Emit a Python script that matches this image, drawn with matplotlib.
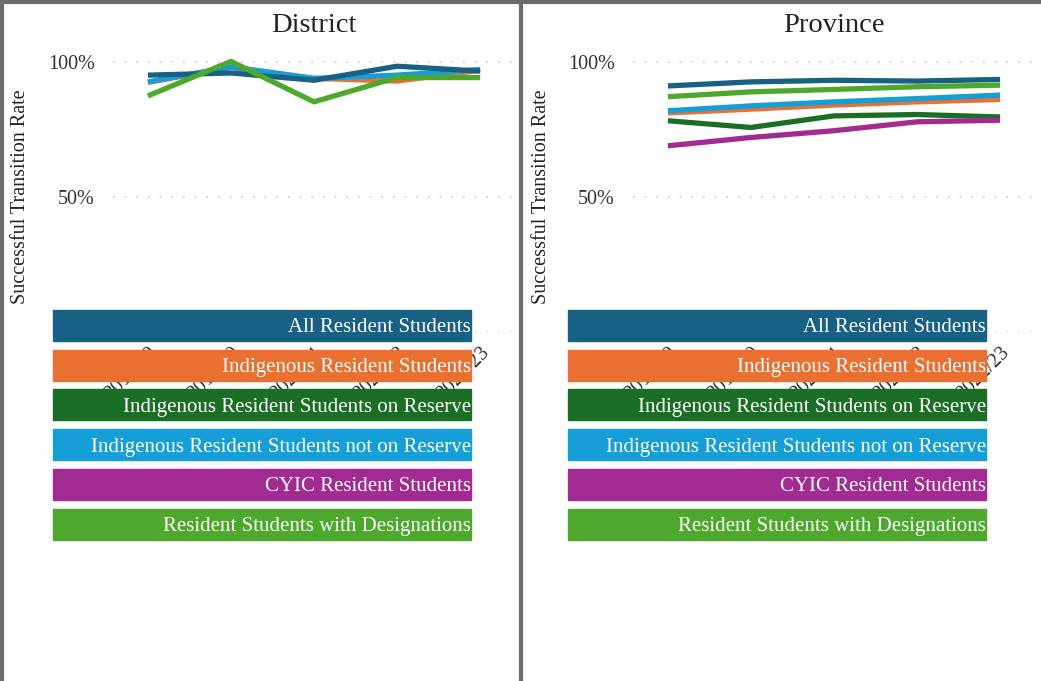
import matplotlib.pyplot as plt
from matplotlib.patches import Rectangle
from matplotlib.lines import Line2D
import numpy as np

plt.rcParams["font.family"] = ["Liberation Serif", "DejaVu Serif"]

years = ["2018/19", "2019/20", "2020/21", "2021/22", "2022/23"]
series = [
    "All Resident Students",
    "Indigenous Resident Students",
    "Indigenous Resident Students on Reserve",
    "Indigenous Resident Students not on Reserve",
    "CYIC Resident Students",
    "Resident Students with Designations",
]
colors = ["#186184", "#ea7032", "#1a6e26", "#169fd6", "#a12b91", "#4fa82e"]

# District values (None = not shown)
district = {
    "All Resident Students": [0.952, 0.960, 0.933, 0.985, 0.967],
    "Indigenous Resident Students": [0.925, 0.980, 0.940, 0.930, 0.970],
    "Indigenous Resident Students on Reserve": None,
    "Indigenous Resident Students not on Reserve": [0.927, 0.983, 0.940, 0.952, 0.973],
    "CYIC Resident Students": None,
    "Resident Students with Designations": [0.875, 1.003, 0.853, 0.943, 0.943],
}
province = {
    "All Resident Students": [0.912, 0.927, 0.933, 0.930, 0.936],
    "Indigenous Resident Students": [0.812, 0.826, 0.841, 0.853, 0.862],
    "Indigenous Resident Students on Reserve": [0.783, 0.758, 0.801, 0.806, 0.797],
    "Indigenous Resident Students not on Reserve": [0.820, 0.838, 0.853, 0.865, 0.878],
    "CYIC Resident Students": [0.690, 0.721, 0.746, 0.779, 0.785],
    "Resident Students with Designations": [0.872, 0.890, 0.899, 0.909, 0.915],
}

W, H = 1041, 681
fig = plt.figure(figsize=(W / 100, H / 100), dpi=100)

panels = [("District", district, 113, 53, 21), ("Province", province, 633, 568, 542)]
draw_order = [1, 2, 4, 3, 0, 5]

for title, data, left_px, leg_px, lab_px in panels:
    ax = fig.add_axes([left_px / W, 1 - 332 / H, 402 / W, 286 / H])
    x = np.arange(len(years))
    for i in draw_order:
        vals = data[series[i]]
        if vals is None:
            continue
        ax.plot(x, vals, color=colors[i], lw=3.8, solid_capstyle="butt",
                solid_joinstyle="miter")
    ax.set_xlim(-0.42, 4.42)
    ax.set_ylim(0, 1.06)
    ax.set_yticks([0.5, 1.0])
    ax.set_yticklabels(["50%", "100%"], fontsize=14.5, color="#333333")
    for v in [0, 0.5, 1.0]:
        ax.axhline(v, color="#c8c8c8", lw=1.2, ls=(0, (1, 6)), zorder=0)
    ax.set_xticks(x)
    ax.set_xticklabels(years, rotation=45, ha="right", va="top", fontsize=14.5,
                       color="#333333", rotation_mode="anchor")
    ax.tick_params(length=0, pad=8)
    ax.tick_params(axis="y", pad=13)
    for s in ax.spines.values():
        s.set_visible(False)
    ax.set_title(title, fontsize=20.5, color="#222222", pad=10)
    fig.text(lab_px / W, 1 - 197 / H, "Successful Transition Rate", rotation=90,
             ha="center", va="center", fontsize=14.5, color="#222222")

    # legend boxes
    for k, name in enumerate(series):
        top = 310 + k * 39.7
        fig.patches.append(Rectangle((leg_px / W, 1 - (top + 31) / H), 418 / W, 31 / H,
                                     transform=fig.transFigure, color=colors[k],
                                     zorder=5))
        fig.text((leg_px + 418) / W, 1 - (top + 18) / H, name, ha="right", va="center",
                 color="white", fontsize=15, zorder=6)

# panel frames
frame = "#6b6b6b"
fig.add_artist(Line2D([0, 1], [1 - 1.5 / H] * 2, color=frame, lw=3))
fig.add_artist(Line2D([1.5 / W] * 2, [0, 1], color=frame, lw=3))
fig.add_artist(Line2D([521 / W] * 2, [0, 1], color=frame, lw=3))

fig.savefig("out.png", dpi=100)
